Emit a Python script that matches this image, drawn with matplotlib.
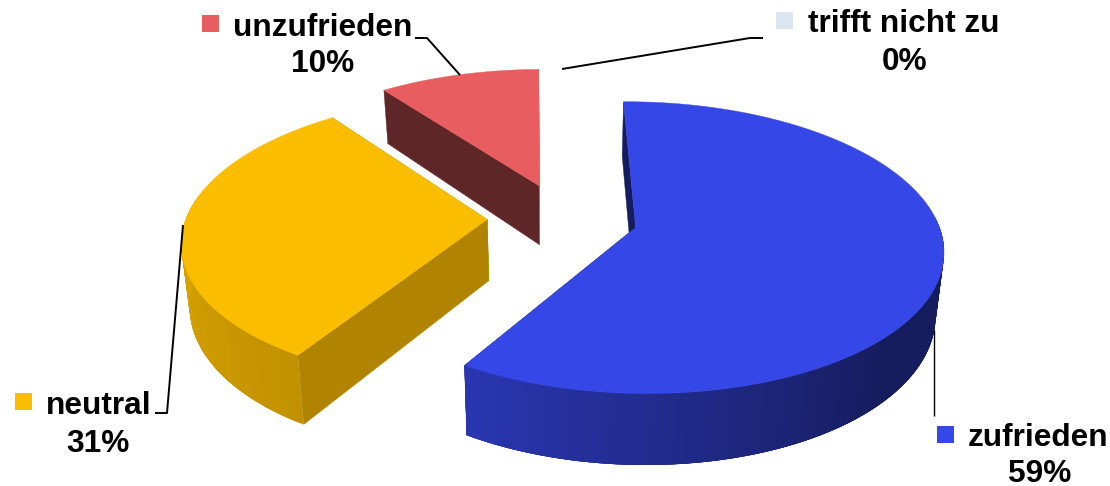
import numpy as np
import matplotlib
matplotlib.use('Agg')
import matplotlib.pyplot as plt

# ---------------------------------------------------------------------------
# Data
# ---------------------------------------------------------------------------

categories = ['zufrieden', 'neutral', 'unzufrieden', 'trifft nicht zu']
values = [59, 31, 10, 0]
colors = ['#3647E8', '#FBBD00', '#E85D5F', '#DCE6F2']

# ---------------------------------------------------------------------------
# Projection of the tilted pie (canvas pixels, y down)
# ---------------------------------------------------------------------------

CX, CY = 562.5, 218.0        # pie centre
RX, RY = 301.0, 140.5        # radii before perspective
PERSP = 0.137                # back of the pie is smaller
DEPTH = 61.0                 # height of the pie
TAPER = 0.022                # bottom of the pie is slightly narrower
EXPLODE = 0.25
START = 90.7                 # first slice starts at 12 o'clock


def project(u, v, z=0.0):
  w = 1.0 + PERSP * v
  return CX + RX * u / w * (1.0 - TAPER * z), CY - RY * v / w + DEPTH * z / w


def shade(color, f):
  return tuple(c * f for c in matplotlib.colors.to_rgb(color))


def wall_factor(a):
  # light comes from the left
  return np.interp(a, [-190, -122, -45, 5], [0.89, 0.77, 0.41, 0.41])


# cut face shades: (first edge, last edge)
face_shades = {'zufrieden': (0.41, 0.41),
               'neutral': (0.70, 0.70),
               'unzufrieden': (0.41, 0.90)}

# ---------------------------------------------------------------------------
# Plot
# ---------------------------------------------------------------------------

fig = plt.figure(figsize=(11.10, 4.86), dpi=100)
ax = fig.add_axes([0, 0, 1, 1])
ax.set_xlim(0, 1110)
ax.set_ylim(486, 0)
ax.axis('off')

total = float(sum(values))
ends = START - 360.0 * np.cumsum(values) / total
starts = np.r_[START, ends[:-1]]

# back to front
for i in [2, 1, 0]:
  name, col = categories[i], colors[i]
  a0, a1 = starts[i], ends[i]
  mid = np.radians((a0 + a1) / 2.0)
  du, dv = EXPLODE * np.cos(mid), EXPLODE * np.sin(mid)
  ang = np.linspace(a0, a1, 200)
  u = du + np.cos(np.radians(ang))
  v = dv + np.sin(np.radians(ang))

  # cut faces
  for a, f in zip((a0, a1), face_shades[name]):
    ru = du + np.cos(np.radians(a))
    rv = dv + np.sin(np.radians(a))
    pts = [project(du, dv), project(ru, rv), project(ru, rv, 1.0), project(du, dv, 1.0)]
    ax.fill(*zip(*pts), color=shade(col, f), lw=0.3, zorder=i * -3 + 1)

  # outer wall; each quad runs on under the next one, so no seams show
  idx = [j for j in range(len(ang) - 1) if -190 <= ang[j] <= 5]
  if a1 < a0 and idx:
    for j in idx:
      k = min(j + 4, idx[-1] + 1)
      px = np.r_[u[j:k + 1], u[j:k + 1][::-1]]
      py = np.r_[v[j:k + 1], v[j:k + 1][::-1]]
      pz = np.r_[np.zeros(k + 1 - j), np.ones(k + 1 - j)]
      wx, wy = project(px, py, pz)
      ax.fill(wx, wy, color=shade(col, wall_factor(ang[j])), lw=0, zorder=i * -3 + 2)

  # top face
  tx, ty = project(np.r_[du, u], np.r_[dv, v])
  ax.fill(tx, ty, color=col, lw=0.3, zorder=i * -3 + 3)

# leader lines
leaders = [([934, 934], [330, 416], 1.0),
           ([183, 167, 155], [225, 413, 413], 1.4),
           ([460, 427, 415], [75, 38, 38], 1.4),
           ([562, 750, 763], [69, 38, 38], 1.4)]
for lx, ly, lw in leaders:
  ax.plot(lx, ly, color='black', lw=lw, zorder=5, solid_capstyle='butt')

# data labels: key square, name, percentage
label_pos = [(937, 968, 1040, 437.5, 473.5), (15, 46, 98, 405.5, 443.5),
             (202, 233, 323, 27.5, 64.5), (776, 808, 905, 24.5, 62.5)]
key_y = [435, 402, 24, 21]
font = dict(family='Liberation Sans', fontweight='bold', fontsize=22.8, color='black',
            va='center', zorder=6)
for name, val, col, (kx, nx, px, ny, py), ky in zip(categories, values, colors, label_pos, key_y):
  ax.add_patch(plt.Rectangle((kx, ky - 9), 17, 17, color=col, lw=0, zorder=6))
  ax.text(nx, ny, name, ha='left', **font)
  ax.text(px, py, '%d%%' % val, ha='center', **font)

fig.savefig('out.png', dpi=100)
plt.close(fig)
